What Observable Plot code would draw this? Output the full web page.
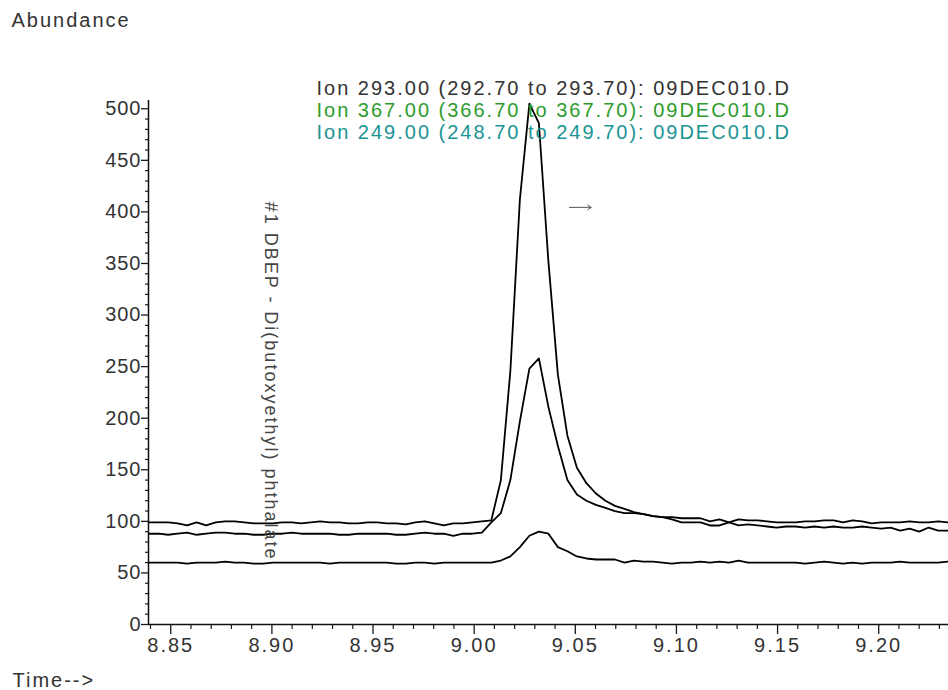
<!DOCTYPE html>
<html>
<head>
<meta charset="utf-8">
<script src="https://cdn.jsdelivr.net/npm/d3@7"></script>
<script src="https://cdn.jsdelivr.net/npm/@observablehq/plot@0.6"></script>
<style>
  html, body { margin: 0; padding: 0; background: #fff; }
  svg text { letter-spacing: 2px; }
</style>
</head>
<body>
<div id="chart"></div>
<script>
// Retention time (min) of each scan
const times = [
  8.8393, 8.8440, 8.8487, 8.8534, 8.8581, 8.8628, 8.8675, 8.8722, 8.8769, 8.8816,
  8.8863, 8.8910, 8.8957, 8.9004, 8.9051, 8.9098, 8.9145, 8.9192, 8.9239, 8.9286,
  8.9333, 8.9380, 8.9427, 8.9474, 8.9521, 8.9568, 8.9615, 8.9662, 8.9709, 8.9756,
  8.9803, 8.9850, 8.9897, 8.9944, 8.9991, 9.0038, 9.0085, 9.0132, 9.0179, 9.0226,
  9.0273, 9.0320, 9.0367, 9.0414, 9.0461, 9.0508, 9.0555, 9.0602, 9.0649, 9.0696,
  9.0743, 9.0790, 9.0837, 9.0884, 9.0931, 9.0978, 9.1025, 9.1072, 9.1119, 9.1166,
  9.1213, 9.1260, 9.1307, 9.1354, 9.1401, 9.1448, 9.1495, 9.1542, 9.1589, 9.1636,
  9.1683, 9.1730, 9.1777, 9.1824, 9.1871, 9.1918, 9.1965, 9.2012, 9.2059, 9.2106,
  9.2153, 9.2200, 9.2247, 9.2294, 9.2341
];

// Ion 293.00 abundance
const ion293 = [
  99, 99, 99, 98, 96, 99, 96, 99, 100, 100,
  99, 98, 98, 98, 99, 99, 98, 99, 100, 99,
  99, 98, 98, 99, 99, 98, 98, 97, 99, 100,
  98, 96, 98, 98, 99, 100, 101, 140, 246, 412,
  505, 486, 352, 242, 183, 152, 137, 127, 120, 115,
  112, 109, 107, 105, 104, 104, 103, 103, 103, 100,
  102, 99, 96, 97, 96, 95, 94, 95, 95, 94,
  95, 94, 95, 94, 94, 95, 94, 93, 94, 91,
  93, 90, 94, 91, 91
];

// Ion 367.00 abundance
const ion367 = [
  88, 88, 87, 88, 89, 87, 88, 89, 89, 88,
  88, 87, 87, 88, 88, 89, 88, 88, 88, 88,
  87, 87, 88, 88, 88, 88, 87, 87, 88, 89,
  88, 88, 86, 88, 88, 89, 99, 108, 140, 197,
  248, 258, 211, 173, 140, 126, 120, 116, 113, 110,
  108, 108, 107, 105, 104, 102, 99, 99, 99, 96,
  96, 99, 102, 101, 101, 100, 99, 99, 99, 100,
  100, 101, 101, 99, 101, 100, 98, 99, 99, 99,
  100, 99, 99, 100, 99
];

// Ion 249.00 abundance
const ion249 = [
  60, 60, 60, 60, 59, 60, 60, 60, 61, 60,
  60, 59, 59, 60, 60, 60, 60, 60, 60, 59,
  60, 60, 60, 60, 60, 60, 59, 59, 60, 60,
  59, 60, 60, 60, 60, 60, 60, 62, 66, 75,
  86, 90, 88, 75, 71, 66, 64, 63, 63, 63,
  60, 62, 61, 61, 60, 59, 60, 60, 61, 60,
  61, 60, 62, 60, 60, 60, 60, 60, 60, 59,
  60, 61, 60, 59, 60, 59, 60, 60, 60, 61,
  60, 60, 60, 60, 61
];

const ionNames = ["Ion 293.00", "Ion 367.00", "Ion 249.00"];
const legendLabels = [
  "Ion 293.00 (292.70 to 293.70): 09DEC010.D",
  "Ion 367.00 (366.70 to 367.70): 09DEC010.D",
  "Ion 249.00 (248.70 to 249.70): 09DEC010.D"
];
const legendColors = ["#333333", "#2e9b2e", "#1b9494"];
const xTicks = [8.85, 8.90, 8.95, 9.00, 9.05, 9.10, 9.15, 9.20];
const xTickLabels = ["8.85", "8.90", "8.95", "9.00", "9.05", "9.10", "9.15", "9.20"];
const yTicks = [0, 50, 100, 150, 200, 250, 300, 350, 400, 450, 500];
const yTickLabels = ["0", "50", "100", "150", "200", "250", "300", "350", "400", "450", "500"];
const compoundLabel = "#1 DBEP - Di(butoxyethyl) phthalate";
const yTitle = "Abundance";
const xTitle = "Time-->";

// Table for the library
const seriesValues = [ion293, ion367, ion249];
const rows = [];
seriesValues.forEach((vals, s) => vals.forEach((v, i) => rows.push({ion: ionNames[s], time: times[i], abundance: v})));

const xMinor = d3.range(884, 924).filter(d => d % 5 !== 0).map(d => d / 100);
const yMinor = d3.range(0, 501, 10).filter(d => d % 50 !== 0);
const xLabelOf = new Map(xTicks.map((t, i) => [t, xTickLabels[i]]));
const yLabelOf = new Map(yTicks.map((t, i) => [t, yTickLabels[i]]));

const textColor = "#333";
const font = "'Liberation Sans', Arial, Helvetica, sans-serif";

const plot = Plot.plot({
  width: 948,
  height: 690,
  marginLeft: 148,
  marginRight: 0,
  marginTop: 100,
  marginBottom: 66,
  style: {fontFamily: font, fontSize: "20px", color: "#1a1a1a", background: "#fff"},
  x: {domain: [8.839, 9.2345], label: null},
  y: {domain: [0, 508], label: null},
  marks: [
    Plot.axisY(yMinor, {tickSize: 3, tickFormat: () => "", strokeWidth: 1.2, label: null}),
    Plot.axisY(yTicks, {tickSize: 7, tickPadding: 0, strokeWidth: 1.3, tickFormat: d => yLabelOf.get(d), fontSize: 20, fill: textColor, label: null}),
    Plot.axisX(xMinor, {tickSize: 5, tickFormat: () => "", strokeWidth: 1.2, label: null}),
    Plot.axisX(xTicks, {tickSize: 10, tickPadding: 3, strokeWidth: 1.3, tickFormat: d => xLabelOf.get(d), fontSize: 20, fill: textColor, label: null}),
    Plot.ruleX([8.839], {stroke: "#111", strokeWidth: 1.5}),
    Plot.ruleY([0], {stroke: "#111", strokeWidth: 1.5}),
    Plot.line(rows, {x: "time", y: "abundance", z: "ion", stroke: "#000", strokeWidth: 1.8}),
    Plot.text([yTitle], {text: d => d, frameAnchor: "top-left", dx: -137, dy: -80, textAnchor: "start", lineAnchor: "middle", fontSize: 20, fill: textColor}),
    Plot.text([xTitle], {text: d => d, frameAnchor: "bottom-left", dx: -136, dy: 56, textAnchor: "start", lineAnchor: "middle", fontSize: 20, fill: textColor}),
    ...legendLabels.map((lab, i) => Plot.text([lab], {
      text: d => d, frameAnchor: "top-left", dx: 168, dy: -11.5 + 22 * i,
      textAnchor: "start", lineAnchor: "middle", fontSize: 20, fill: legendColors[i]
    })),
    Plot.text([compoundLabel], {text: d => d, x: 8.8994, y: 236, rotate: 90, textAnchor: "middle", lineAnchor: "middle", fontSize: 18, fill: "#444"}),
    Plot.arrow([compoundLabel], {x1: 9.0471, x2: 9.0578, y1: 404.4, y2: 404.4, stroke: "#555", strokeWidth: 1, headLength: 6, headAngle: 70})
  ]
});

d3.select(plot).selectAll('g[aria-label="y-axis tick label"] text').style("letter-spacing", "1px");
document.getElementById("chart").appendChild(plot);
</script>
</body>
</html>
